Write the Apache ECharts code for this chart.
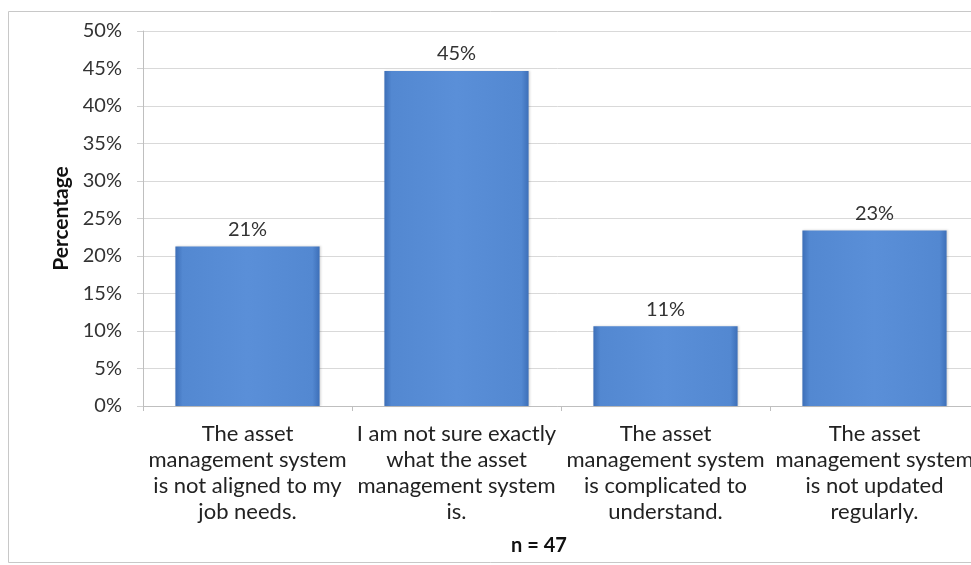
<!DOCTYPE html>
<html>
<head>
<meta charset="utf-8">
<script src="https://cdn.jsdelivr.net/npm/echarts@6/dist/echarts.min.js"></script>
<style>
  html, body { margin: 0; padding: 0; background: #fff; }
  #chart { width: 971px; height: 565px; }
</style>
</head>
<body>
<div id="chart"></div>
<script>
// Survey responses (n = 47)
const categories = [
  'The asset\nmanagement system\nis not aligned to my\njob needs.',
  'I am not sure exactly\nwhat the asset\nmanagement system\nis.',
  'The asset\nmanagement system\nis complicated to\nunderstand.',
  'The asset\nmanagement system\nis not updated\nregularly.'
];
const respondents = [10, 21, 5, 11];
const totalN = 47;
const percentages = respondents.map(v => v / totalN * 100);
const yTicks = [0, 5, 10, 15, 20, 25, 30, 35, 40, 45, 50];

const FONT = 'Lato, "Open Sans", sans-serif';

const chart = echarts.init(document.getElementById('chart'), null, { renderer: 'canvas' });

const barFill = new echarts.graphic.LinearGradient(0, 0, 1, 0, [
  { offset: 0, color: '#3d6fb8' },
  { offset: 0.05, color: '#5388d1' },
  { offset: 0.5, color: '#5a8fd8' },
  { offset: 0.95, color: '#5388d1' },
  { offset: 1, color: '#3d6fb8' }
]);

chart.setOption({
  animation: false,
  backgroundColor: '#ffffff',
  graphic: [{
    type: 'rect',
    shape: { x: 8.5, y: 11.5, width: 980, height: 551 },
    style: { fill: 'none', stroke: '#c8c8c8', lineWidth: 1 },
    z: -1
  }],
  grid: {
    left: 143, width: 836, top: 31, bottom: 159,
    containLabel: false,
    outerBoundsMode: 'none'
  },
  xAxis: {
    type: 'category',
    data: categories,
    name: 'n = ' + totalN,
    nameLocation: 'middle',
    nameGap: 130,
    nameTextStyle: {
      fontFamily: FONT, fontSize: 20, fontWeight: 'bold', color: '#111',
      padding: [0, 44, 0, 0]
    },
    axisLine: { show: true, lineStyle: { color: '#bfbfbf' } },
    axisTick: { show: true, length: 5, lineStyle: { color: '#bfbfbf' } },
    axisLabel: {
      interval: 0,
      margin: 15,
      fontFamily: FONT,
      fontSize: 22,
      lineHeight: 26,
      color: '#222',
      align: 'center'
    }
  },
  yAxis: {
    type: 'value',
    min: yTicks[0],
    max: yTicks[yTicks.length - 1],
    interval: 5,
    name: 'Percentage',
    nameLocation: 'middle',
    nameGap: 61,
    nameRotate: 90,
    nameTextStyle: { fontFamily: FONT, fontSize: 21, fontWeight: 'bold', color: '#111' },
    axisLine: { show: true, lineStyle: { color: '#bfbfbf' } },
    axisTick: { show: true, length: 6, lineStyle: { color: '#d0d0d0' } },
    splitLine: { show: true, lineStyle: { color: '#d9d9d9' } },
    axisLabel: {
      margin: 21,
      fontFamily: FONT,
      fontSize: 20,
      color: '#333',
      formatter: v => v + '%'
    }
  },
  series: [{
    type: 'bar',
    data: percentages,
    barWidth: '69%',
    itemStyle: {
      color: barFill,
      shadowColor: 'rgba(0,0,0,0.15)',
      shadowBlur: 2,
      shadowOffsetX: 1,
      shadowOffsetY: 0
    },
    label: {
      show: true,
      position: 'top',
      distance: 7,
      fontFamily: FONT,
      fontSize: 20,
      color: '#333',
      formatter: p => Math.round(p.value) + '%'
    }
  }]
});
</script>
</body>
</html>
